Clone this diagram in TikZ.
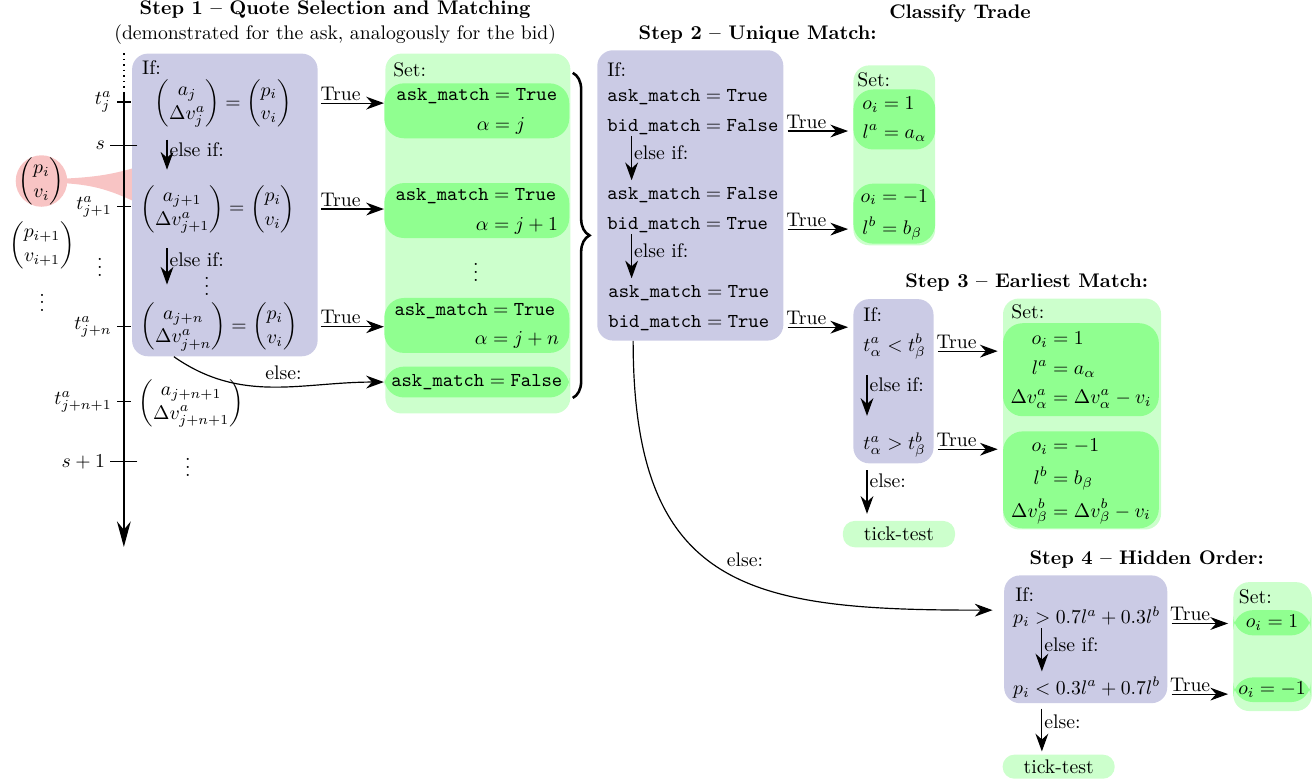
\documentclass[tikz,border=0pt]{standalone}
\usepackage{amsmath, amssymb}
\usepackage{tikz}
\usetikzlibrary{arrows.meta, decorations.pathreplacing}

\definecolor{ifblue}{RGB}{203,203,229}
\definecolor{setgreen}{RGB}{204,255,204}
\definecolor{matchgreen}{RGB}{144,255,144}
\definecolor{quotered}{RGB}{248,196,196}

\begin{document}
\begin{tikzpicture}[
    flow/.style={-{Stealth[length=9pt,width=6.5pt]}, semithick},
    truearrow/.style={flow, shorten <=2pt, shorten >=2.5pt},
    truelabel/.style={above right, inner sep=1pt, pos=0},
    elselabel/.style={right, inner sep=1pt, pos=0.35},
    ifbox/.style={fill=ifblue, rounded corners=8pt, anchor=north west, inner sep=0pt},
    setbox/.style={fill=setgreen, rounded corners=8pt, anchor=north west, inner sep=0pt},
    matchbox/.style={fill=matchgreen, rounded corners=10pt, anchor=north west, inner sep=0pt},
    testbox/.style={fill=setgreen, rounded corners=6pt, inner sep=0pt},
    textrow/.style={anchor=west, inner sep=0pt},
    heading/.style={font=\bfseries},
  ]
  \useasboundingbox (0,0) rectangle (23.41,-13.95);

  % headings
  \node[heading] (hone) at (5.98,-0.18) {Step 1 -- Quote Selection and Matching};
  \node (honesub) at (5.98,-0.61) {(demonstrated for the ask, analogously for the bid)};
  \node[heading] (classify) at (17.13,-0.25) {Classify Trade};
  \node[heading] (htwo) at (13.52,-0.62) {Step 2 -- Unique Match:};
  \node[heading] (hthree) at (18.32,-5.05) {Step 3 -- Earliest Match:};
  \node[heading] (hfour) at (20.46,-9.99) {Step 4 -- Hidden Order:};

  % incoming trade and its callout
  \fill[quotered] (0.74,-3.20) .. controls (1.75,-3.18) and (2.05,-3.10) .. (2.55,-2.95)
    -- (2.55,-3.66) .. controls (2.05,-3.45) and (1.75,-3.25) .. (0.74,-3.26) -- cycle;
  \node[circle, fill=quotered, inner sep=-2.5pt] (quote) at (0.74,-3.23)
    {$\begin{pmatrix} p_i\\ v_i \end{pmatrix}$};
  \node (quotenext) at (0.75,-4.37) {$\begin{pmatrix} p_{i+1}\\ v_{i+1} \end{pmatrix}$};
  \node (vdquote) at (0.75,-5.30) {$\vdots$};
  \node (vdtime) at (1.78,-4.67) {$\vdots$};

  % step 1: quote selection
  \node[ifbox, minimum width=3.31cm, minimum height=5.40cm] (ifone) at (2.35,-0.95) {};
  \node[textrow] (ifonelab) at (2.53,-1.20) {If:};
  \node (eqa) at (3.98,-1.84)
    {$\begin{pmatrix} a_j\\ \Delta v^a_j \end{pmatrix} = \begin{pmatrix} p_i\\ v_i \end{pmatrix}$};
  \node (eqb) at (3.89,-3.73)
    {$\begin{pmatrix} a_{j+1}\\ \Delta v^a_{j+1} \end{pmatrix} = \begin{pmatrix} p_i\\ v_i \end{pmatrix}$};
  \node (eqc) at (3.91,-5.83)
    {$\begin{pmatrix} a_{j+n}\\ \Delta v^a_{j+n} \end{pmatrix} = \begin{pmatrix} p_i\\ v_i \end{pmatrix}$};
  \node (vdone) at (3.69,-5.00) {$\vdots$};
  \node (eqd) at (3.41,-7.19) {$\begin{pmatrix} a_{j+n+1}\\ \Delta v^a_{j+n+1} \end{pmatrix}$};
  \node (vdtwo) at (3.35,-8.24) {$\vdots$};
  \coordinate (laneone) at (2.98,0);
  \draw[flow, shorten <=0.1cm, shorten >=0.15cm] (eqa.south -| laneone) -- (eqb.north -| laneone)
    node[elselabel] {else if:};
  \draw[flow, shorten <=0.15cm, shorten >=0.2cm] (eqb.south -| laneone) -- (eqc.north -| laneone)
    node[elselabel] {else if:};

  % time axis
  \draw[thick, dotted] (2.21,-0.95) -- (2.21,-1.66);
  \draw[thick, -{Stealth[length=13pt,width=7pt]}] (2.21,-1.66) -- (2.21,-9.76);
  \foreach \y/\w/\lab [count=\k] in {-1.82/0.12/t^a_j, -2.59/0.24/s, -3.69/0.12/t^a_{j+1},
      -5.83/0.12/t^a_{j+n}, -7.17/0.12/t^a_{j+n+1}, -8.24/0.24/s+1}
    \draw[semithick] (2.21+\w,\y) -- (2.21-\w,\y) node[left, inner sep=2.5pt] (tick\k) {$\lab$};

  % step 1: results
  \node[setbox, minimum width=3.30cm, minimum height=6.42cm] (setone) at (6.87,-0.95) {};
  \node[textrow] (setonelab) at (7.01,-1.25) {Set:};
  \node[matchbox, minimum width=3.30cm, minimum height=0.98cm] (ma) at (6.85,-1.48)
    {$\begin{aligned} \texttt{ask\_match} &= \texttt{True}\\ \alpha &= j \end{aligned}$};
  \node[matchbox, minimum width=3.30cm, minimum height=0.98cm] (mb) at (6.85,-3.26)
    {$\begin{aligned} \texttt{ask\_match} &= \texttt{True}\\ \alpha &= j+1 \end{aligned}$};
  \node (vdset) at (8.49,-4.76) {$\vdots$};
  \node[matchbox, minimum width=3.30cm, minimum height=0.98cm] (mc) at (6.85,-5.31)
    {$\begin{aligned} \texttt{ask\_match} &= \texttt{True}\\ \alpha &= j+n \end{aligned}$};
  \node[matchbox, minimum width=3.30cm, minimum height=0.55cm] (md) at (6.85,-6.535)
    {$\texttt{ask\_match} = \texttt{False}$};
  \foreach \e/\m in {eqa/ma, eqb/mb, eqc/mc}
    \draw[flow, shorten <=1.5pt] (\e -| ifone.east) -- (\e -| \m.west) node[truelabel] {True};
  \draw[flow] ([xshift=-0.91cm]ifone.south) to[out=-35, in=180]
    node[pos=0.55, above] {else:} (md.west);
  \draw[line width=1.3pt, decorate, decoration={brace, amplitude=8.5pt}]
    (10.22,-1.30) -- (10.22,-7.10);

  % step 2: unique match
  \node[ifbox, minimum width=3.32cm, minimum height=5.18cm] (iftwo) at (10.65,-0.89) {};
  \node[textrow] (iftwolab) at (10.83,-1.25) {If:};
  \node[textrow] (ra) at (10.83,-1.73) {$\texttt{ask\_match} = \texttt{True}$};
  \node[textrow] (rb) at (10.83,-2.26) {$\texttt{bid\_match} = \texttt{False}$};
  \node[textrow] (rc) at (10.83,-3.48) {$\texttt{ask\_match} = \texttt{False}$};
  \node[textrow] (rd) at (10.83,-4.01) {$\texttt{bid\_match} = \texttt{True}$};
  \node[textrow] (re) at (10.85,-5.23) {$\texttt{ask\_match} = \texttt{True}$};
  \node[textrow] (rf) at (10.85,-5.76) {$\texttt{bid\_match} = \texttt{True}$};
  \coordinate (lanetwo) at (11.27,0);
  \draw[flow, shorten <=0.03cm, shorten >=0.12cm] (rb.south -| lanetwo) -- (rc.north -| lanetwo)
    node[elselabel] {else if:};
  \draw[flow, shorten <=0.03cm, shorten >=0.12cm] (rd.south -| lanetwo) -- (re.north -| lanetwo)
    node[elselabel] {else if:};

  \node[setbox, minimum width=1.46cm, minimum height=3.21cm] (settwo) at (15.22,-1.16) {};
  \node[textrow] (settwolab) at (15.29,-1.43) {Set:};
  \node[matchbox, minimum width=1.46cm, minimum height=1.07cm] (mta) at (15.22,-1.59)
    {$\begin{aligned} o_i &= 1\\ l^a &= a_\alpha \end{aligned}$};
  \node[matchbox, minimum width=1.46cm, minimum height=1.07cm] (mtb) at (15.22,-3.27)
    {$\begin{aligned} o_i &= -1\\ l^b &= b_\beta \end{aligned}$};

  % step 3: earliest match
  \node[ifbox, minimum width=1.43cm, minimum height=2.93cm] (ifthree) at (15.22,-5.33) {};
  \node[textrow] (ifthreelab) at (15.40,-5.62) {If:};
  \node[textrow] (ta) at (15.40,-6.19) {$t^a_\alpha < t^b_\beta$};
  \node[textrow] (tb) at (15.40,-7.94) {$t^a_\alpha > t^b_\beta$};
  \coordinate (lanethree) at (15.47,0);
  \draw[flow, shorten <=0.27cm, shorten >=0.29cm] (ta.south -| lanethree) -- (tb.north -| lanethree)
    node[elselabel] {else if:};
  \node[testbox, minimum width=2.0cm, minimum height=0.47cm] (tta) at (16.04,-9.53) {tick-test};
  \draw[flow, shorten <=0.12cm, shorten >=0.12cm] (ifthree.south -| lanethree) -- (tta.north -| lanethree)
    node[elselabel, pos=0.3] {else:};

  \node[setbox, minimum width=2.82cm, minimum height=4.12cm] (setthree) at (17.89,-5.32) {};
  \node[textrow] (setthreelab) at (18.04,-5.57) {Set:};
  \node[matchbox, minimum width=2.78cm, minimum height=1.66cm] (mtha) at (17.89,-5.76)
    {$\begin{aligned} o_i &= 1\\ l^a &= a_\alpha\\ \Delta v^a_\alpha &= \Delta v^a_\alpha - v_i \end{aligned}$};
  \node[matchbox, minimum width=2.78cm, minimum height=1.73cm] (mthb) at (17.89,-7.69)
    {$\begin{aligned} o_i &= -1\\ l^b &= b_\beta\\ \Delta v^b_\beta &= \Delta v^b_\beta - v_i \end{aligned}$};

  % step 4: hidden order
  \node[ifbox, minimum width=2.91cm, minimum height=2.28cm] (iffour) at (17.91,-10.26) {};
  \node[textrow] (iffourlab) at (18.11,-10.61) {If:};
  \node[textrow] (pa) at (18.07,-11.01) {$p_i > 0.7l^a + 0.3l^b$};
  \node[textrow] (pb) at (18.07,-12.27) {$p_i < 0.3l^a + 0.7l^b$};
  \coordinate (lanefour) at (18.59,0);
  \draw[flow, shorten <=0.01cm, shorten >=0.1cm] (pa.south -| lanefour) -- (pb.north -| lanefour)
    node[elselabel] {else if:};
  \node[testbox, minimum width=2.0cm, minimum height=0.43cm] (ttb) at (18.89,-13.68) {tick-test};
  \draw[flow, shorten <=0.09cm, shorten >=0.05cm] (iffour.south -| lanefour) -- (ttb.north -| lanefour)
    node[elselabel] {else:};

  \node[setbox, minimum width=1.40cm, minimum height=2.30cm] (setfour) at (22.00,-10.38) {};
  \node[textrow] (setfourlab) at (22.10,-10.65) {Set:};
  \node[matchbox, minimum width=1.38cm, minimum height=0.45cm] (mfa) at (22.00,-10.88) {$o_i = 1$};
  \node[matchbox, minimum width=1.38cm, minimum height=0.44cm] (mfb) at (22.00,-12.08) {$o_i = -1$};

  % decisions between the steps
  \foreach \b/\r/\m in {iftwo/rb/mta, iftwo/rd/mtb, iftwo/rf/ifthree, ifthree/ta/setthree,
      ifthree/tb/setthree, iffour/pa/setfour, iffour/pb/setfour}
    \draw[truearrow] (\r.base -| \b.east) -- (\r.base -| \m.west) node[truelabel] {True};
  \draw[flow, shorten >=0.2cm] ([xshift=-1.02cm]iftwo.south) to[out=-90, in=180, looseness=1.4]
    node[pos=0.5, above right, inner sep=1pt] {else:} ([yshift=0.52cm]iffour.west);
\end{tikzpicture}
\end{document}
